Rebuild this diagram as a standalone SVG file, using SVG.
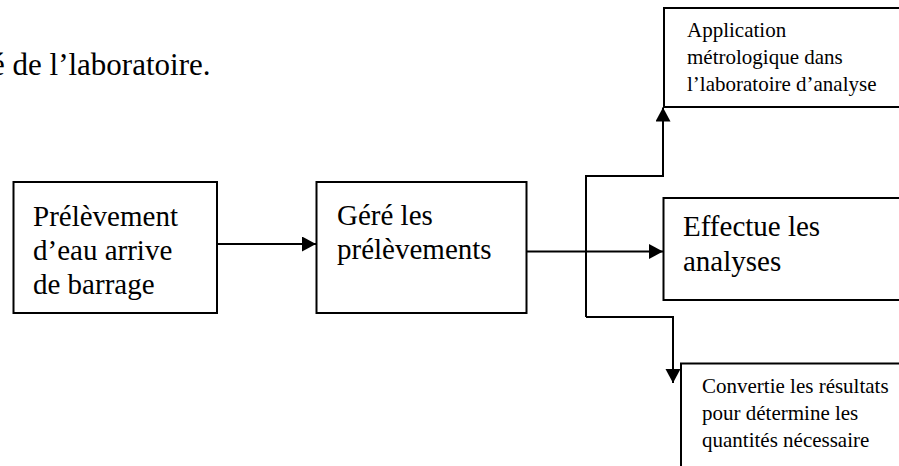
<svg xmlns="http://www.w3.org/2000/svg" width="899" height="466" viewBox="0 0 899 466">
  <style>
    .box { fill: #ffffff; stroke: #000000; stroke-width: 2; }
    .big { font-family: "Liberation Serif", "Times New Roman", serif; font-size: 29px; fill: #000000; }
    .small { font-family: "Liberation Serif", "Times New Roman", serif; font-size: 21px; fill: #000000; }
    .title { font-family: "Liberation Serif", "Times New Roman", serif; font-size: 31px; fill: #000000; }
    .conn { fill: none; stroke: #000000; stroke-width: 2; }
  </style>
  <defs>
    <marker id="arrow" markerUnits="userSpaceOnUse" markerWidth="15" markerHeight="16" refX="14" refY="7.5" orient="auto">
      <path d="M0,0 L14,7.5 L0,15 Z" fill="#000000"/>
    </marker>
  </defs>
  <rect width="899" height="466" fill="#ffffff"/>

  <text class="title" x="-9" y="75">é de l’laboratoire.</text>

  <g id="connectors">
    <path class="conn" d="M217,244 H316" marker-end="url(#arrow)"/>
    <path class="conn" d="M527,251.5 H663" marker-end="url(#arrow)"/>
    <path class="conn" d="M586,317 V176 H663 V107.5" marker-end="url(#arrow)"/>
    <path class="conn" d="M586,317 H673 V383" marker-end="url(#arrow)"/>
  </g>

  <g id="node-prelevement">
    <rect class="box" x="13.5" y="182" width="203.5" height="131"/>
    <text class="big" x="33" y="226">Prélèvement</text>
    <text class="big" x="33" y="260">d’eau arrive</text>
    <text class="big" x="33" y="293.5">de barrage</text>
  </g>

  <g id="node-gere">
    <rect class="box" x="316.5" y="182" width="210" height="131"/>
    <text class="big" x="337" y="225">Géré les</text>
    <text class="big" x="337" y="259">prélèvements</text>
  </g>

  <g id="node-application">
    <rect class="box" x="664" y="8" width="260" height="99"/>
    <text class="small" x="687" y="37">Application</text>
    <text class="small" x="687" y="64">métrologique dans</text>
    <text class="small" x="687" y="91">l’laboratoire d’analyse</text>
  </g>

  <g id="node-effectue">
    <rect class="box" x="663.5" y="198" width="260" height="102"/>
    <text class="big" x="683" y="236">Effectue les</text>
    <text class="big" x="683" y="271">analyses</text>
  </g>

  <g id="node-convertie">
    <rect class="box" x="681" y="363.5" width="260" height="130"/>
    <text class="small" x="702" y="393">Convertie les résultats</text>
    <text class="small" x="702" y="420">pour détermine les</text>
    <text class="small" x="702" y="447">quantités nécessaire</text>
  </g>
</svg>
